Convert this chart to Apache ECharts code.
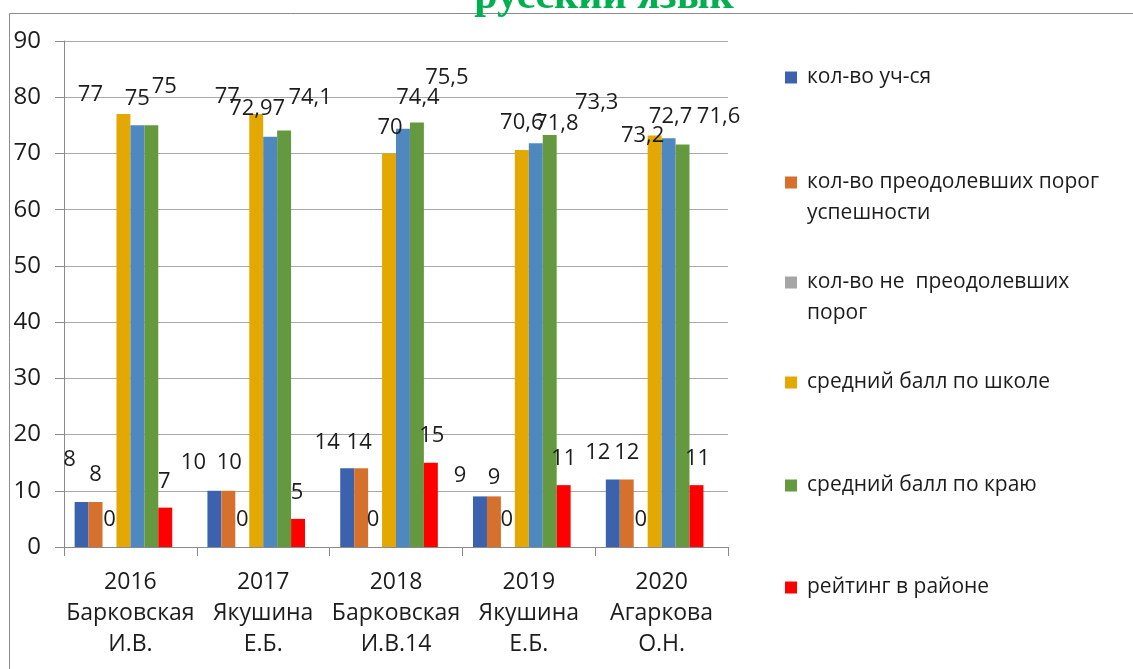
<!DOCTYPE html>
<html><head><meta charset="utf-8">
<script src="https://cdn.jsdelivr.net/npm/echarts@6/dist/echarts.min.js"></script>
<style>html,body{margin:0;padding:0;background:#fff}#c{width:1133px;height:669px}</style>
</head><body><div id="c"></div>
<script>
// ---- data ----
const categories = ['2016\nБарковская\nИ.В.', '2017\nЯкушина\nЕ.Б.', '2018\nБарковская\nИ.В.14', '2019\nЯкушина\nЕ.Б.', '2020\nАгаркова\nО.Н.'];
const studentsCount = [8, 10, 14, 9, 12];
const passedCount = [8, 10, 14, 9, 12];
const notPassedCount = [0, 0, 0, 0, 0];
const schoolAvg = [77, 77, 70, 70.6, 73.2];
const districtAvg = [75, 72.97, 74.4, 71.8, 72.7];
const regionAvg = [75, 74.1, 75.5, 73.3, 71.6];
const districtRating = [7, 5, 15, 11, 11];
const emptySlot = [null, null, null, null, null];
const yMin = 0, yMax = 90, yStep = 10;

// ---- layout / style (not data) ----
const labelNudge = {
  blue:   [[-12,-42],[-21,-28],[-20,-26],[-20,-21],[-15,-27]],
  orange: [[0,-27],[1,-28],[-2,-26],[0,-19],[0,-27]],
  gray:   [[0,-27],[0,-27],[-2,-27],[-1,-27],[0,-27]],
  yellow: [[-33,-19],[-29,-17],[1,-26],[0,-27],[-12,0]],
  lblue:  [[0,-27],[-13,-28],[15,-31],[21,-20],[2,-22]],
  green:  [[13,-39],[26,-33],[30,-45],[47,-32],[36,-28]],
  red:    [[-1,-26],[-1,-26],[1,-27],[0,-26],[1,-26]]
};
const FONT = 'Open Sans';
const TXT = '#1c1c1c';

function mkSeries(name, values, color, nudge) {
  return {
    name, type: 'bar', barGap: '0%', barCategoryGap: '16%',
    itemStyle: { color },
    label: {
      show: true, position: 'top', distance: 0, align: 'center', verticalAlign: 'middle',
      fontFamily: FONT, fontSize: 22, color: TXT,
      formatter: p => String(p.value).replace('.', ',')
    },
    data: values.map((v, k) => ({ value: v, label: nudge ? { offset: nudge[k] } : undefined }))
  };
}

const series = [
  mkSeries('кол-во уч-ся', studentsCount, '#3D62AD', labelNudge.blue),
  mkSeries('кол-во преодолевших порог успешности', passedCount, '#D6712D', labelNudge.orange),
  mkSeries('кол-во не преодолевших порог', notPassedCount, '#A5A5A5', labelNudge.gray),
  mkSeries('средний балл по школе', schoolAvg, '#E3A902', labelNudge.yellow),
  mkSeries('средний балл по району', districtAvg, '#4F88BF', labelNudge.lblue),
  mkSeries('средний балл по краю', regionAvg, '#65993F', labelNudge.green),
  mkSeries('рейтинг в районе', districtRating, '#FF0000', labelNudge.red),
  mkSeries('ряд 8', emptySlot, '#5B9BD5', null)
];

const legendText = {
  'кол-во уч-ся': 'кол-во уч-ся',
  'кол-во преодолевших порог успешности': '\nкол-во преодолевших порог\nуспешности',
  'кол-во не преодолевших порог': '\nкол-во не  преодолевших\nпорог',
  'средний балл по школе': 'средний балл по школе',
  'средний балл по краю': 'средний балл по краю',
  'рейтинг в районе': 'рейтинг в районе'
};
const legendRows = [
  ['кол-во уч-ся', 62, false],
  ['кол-во преодолевших порог успешности', 136, true],
  ['кол-во не преодолевших порог', 236, true],
  ['средний балл по школе', 367, false],
  ['средний балл по краю', 470, false],
  ['рейтинг в районе', 572, false]
];

const chart = echarts.init(document.getElementById('c'), null, { renderer: 'canvas' });
chart.setOption({
  animation: false,
  backgroundColor: '#fff',
  graphic: [
    { type: 'rect', z: 0, shape: { x: 9.5, y: 13.5, width: 1200, height: 700 }, style: { fill: 'none', stroke: '#8c8c8c', lineWidth: 1 } },
    { type: 'text', z: 10, x: 604, y: -3, style: { text: 'русский язык', font: 'bold 42px "Liberation Serif"', fill: '#00B050', align: 'center', verticalAlign: 'middle' } }
  ],
  legend: legendRows.map(([name, top, two]) => ({
    data: [name], left: 785, top, orient: 'vertical', padding: 0,
    itemWidth: 12, itemHeight: 12, icon: 'rect', selectedMode: false,
    formatter: n => legendText[n],
    textStyle: { fontFamily: FONT, fontSize: 21, color: TXT, lineHeight: 31, padding: [0, 0, 0, 5] }
  })),
  grid: { left: 64, right: 405, top: 41, bottom: 122, containLabel: false },
  xAxis: {
    type: 'category', data: categories,
    axisLine: { lineStyle: { color: '#8a8a8a' } },
    axisTick: { show: true, length: 9, lineStyle: { color: '#8a8a8a' } },
    axisLabel: { interval: 0, fontFamily: FONT, fontSize: 23, lineHeight: 31, color: TXT, margin: 20 }
  },
  yAxis: {
    type: 'value', min: yMin, max: yMax, interval: yStep,
    axisLine: { show: true, lineStyle: { color: '#8a8a8a' } },
    axisTick: { show: true, length: 9, lineStyle: { color: '#8a8a8a' } },
    splitLine: { lineStyle: { color: '#a8a8a8' } },
    axisLabel: { fontFamily: FONT, fontSize: 24, color: TXT, margin: 23 }
  },
  series
});
</script>
</body></html>
